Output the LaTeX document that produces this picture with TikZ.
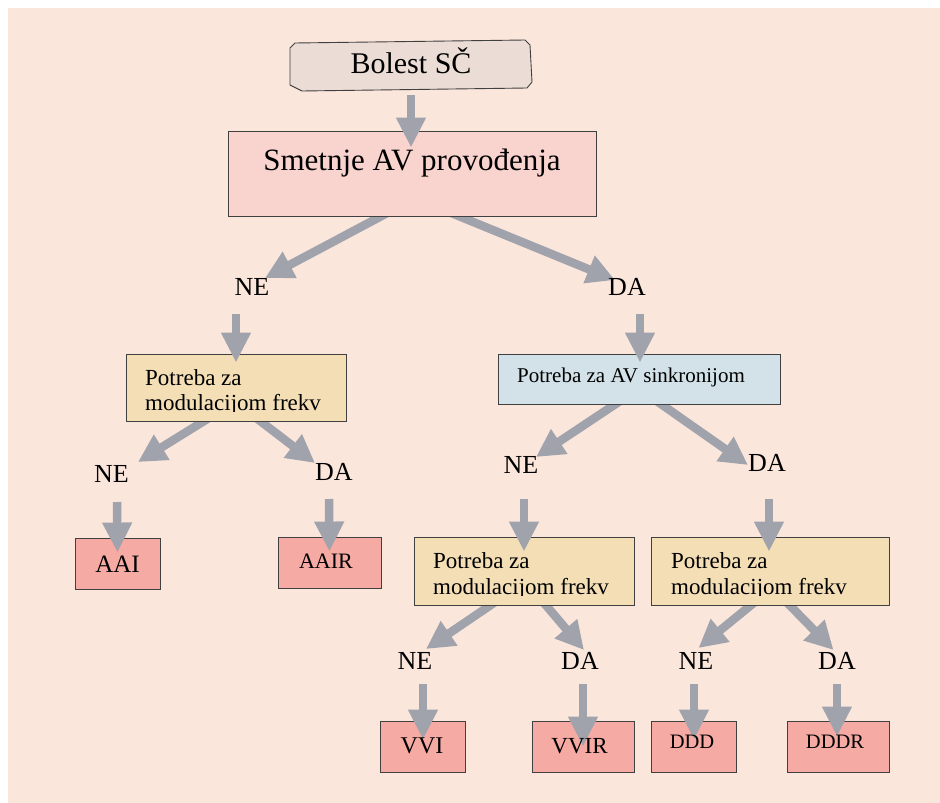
\documentclass[tikz,border=0pt]{standalone}
\usepackage{fontspec}
\setmainfont{Liberation Serif}
\usetikzlibrary{arrows.meta,calc}
\pgfdeclarelayer{back}
\pgfdeclarelayer{mid}
\pgfsetlayers{back,mid,main}
\definecolor{bgc}{HTML}{FBE6DC}
\definecolor{bolc}{HTML}{EBDDD5}
\definecolor{smetc}{HTML}{F9D4CF}
\definecolor{yelc}{HTML}{F3DEB6}
\definecolor{bluec}{HTML}{D3E2E8}
\definecolor{redc}{HTML}{F5AAA3}
\definecolor{arrc}{HTML}{A0A3AC}
\definecolor{bordc}{HTML}{404040}
\begin{document}
\begin{tikzpicture}[x=1pt,y=-1pt,
  box/.style={draw=bordc,line width=0.9pt,inner sep=0pt},
  arr/.style={draw=arrc,line width=8.5pt,-{Triangle[width=28pt,length=30pt]}},
  darr/.style={draw=arrc,line width=8.5pt,-{Triangle[width=28pt,length=28pt]}},
  lbl/.style={inner sep=0pt,anchor=base,font=\fontsize{26}{30}\selectfont},
  txt/.style={inner sep=0pt,anchor=base},
  txtl/.style={inner sep=0pt,anchor=base west,font=\fontsize{23}{26}\selectfont}]
\useasboundingbox (0,0) rectangle (940,803);
\begin{pgfonlayer}{back}
\fill[bgc] (8,8) rectangle (940,803);
\end{pgfonlayer}

% boxes
\node[inner sep=0pt,minimum width=242pt,minimum height=48pt] (bol) at (411,66) {};
\draw[draw=bordc,line width=0.9pt,fill=bolc,line join=round]
  (290,48) -- (295,43) -- (525,40) -- (530,45) -- (532,82) -- (527,88)
  -- (302,91) -- (290,85) -- cycle;
\node[box,fill=smetc,minimum width=368pt,minimum height=85pt] (smet) at (412,173.5) {};
\node[box,fill=yelc,minimum width=220pt,minimum height=67pt] (yel1) at (236,387.5) {};
\node[box,fill=bluec,minimum width=282pt,minimum height=50pt] (blue) at (639,379) {};
\node[box,fill=yelc,minimum width=220pt,minimum height=68pt] (yel2) at (524,571) {};
\node[box,fill=yelc,minimum width=238pt,minimum height=68pt] (yel3) at (770,571) {};
\node[box,fill=redc,minimum width=85pt,minimum height=51pt] (aai) at (117.5,563.5) {};
\node[box,fill=redc,minimum width=103pt,minimum height=51pt] (aair) at (329.5,562.5) {};
\node[box,fill=redc,minimum width=85pt,minimum height=51pt] (vvi) at (422.5,746.5) {};
\node[box,fill=redc,minimum width=102pt,minimum height=51pt] (vvir) at (583,746.5) {};
\node[box,fill=redc,minimum width=85pt,minimum height=51pt] (ddd) at (694,746.5) {};
\node[box,fill=redc,minimum width=102pt,minimum height=51pt] (dddr) at (838,746.5) {};

% decision labels
\node[lbl] (ne1) at (252,295) {NE};
\node[lbl] (da1) at (627,295) {DA};
\node[lbl] (ne2) at (111.5,482) {NE};
\node[lbl] (da2) at (334,480) {DA};
\node[lbl] (ne3) at (521,473) {NE};
\node[lbl] (da3) at (767,471) {DA};
\node[lbl] (ne4) at (415,669) {NE};
\node[lbl] (da4) at (580,669) {DA};
\node[lbl] (ne5) at (696,669) {NE};
\node[lbl] (da5) at (837,669) {DA};

% diagonal arrows (behind the boxes)
\begin{pgfonlayer}{mid}
\draw[darr] ($(smet.south)+(-20,-6)$) -- ($(ne1.base)+(13,-17)$);
\draw[darr] ($(smet.south)+(33,-6)$) -- ($(da1.base)+(-12,-15)$);
\draw[darr] ($(yel1.south)+(-23,-6)$) -- ($(ne2.base)+(26.5,-20)$);
\draw[darr] ($(yel1.south)+(17,-6)$) -- ($(da2.base)+(-19,-17)$);
\draw[darr] ($(blue.south)+(-15,-6)$) -- ($(ne3.base)+(15,-16)$);
\draw[darr] ($(blue.south)+(14,-6)$) -- ($(da3.base)+(-19,-6)$);
\draw[darr] ($(yel2.south)+(-25,-6)$) -- ($(ne4.base)+(11,-20)$);
\draw[darr] ($(yel2.south)+(17,-6)$) -- ($(da4.base)+(4,-19)$);
\draw[darr] ($(yel3.south)+(-12,-6)$) -- ($(ne5.base)+(2.5,-21)$);
\draw[darr] ($(yel3.south)+(14,-6)$) -- ($(da5.base)+(-3.5,-19)$);
\end{pgfonlayer}

% vertical arrows
\draw[arr] ($(bol.south)+(0,5)$) -- ($(smet.north)+(-1,17)$);
\draw[arr] ($(ne1.base)+(-16,19)$) -- ($(yel1.north)+(0,9)$);
\draw[arr] ($(da1.base)+(13,19)$) -- ($(blue.north)+(1,9)$);
\draw[arr] ($(ne2.base)+(5.5,20)$) -- ($(aai.north)+(0,15)$);
\draw[arr] ($(da2.base)+(-5,19)$) -- ($(aair.north)+(0,15)$);
\draw[arr] ($(ne3.base)+(3,26)$) -- ($(yel2.north)+(0,15)$);
\draw[arr] ($(da3.base)+(2,28)$) -- ($(yel3.north)+(-1,15)$);
\draw[arr] ($(ne4.base)+(8,15)$) -- ($(vvi.north)+(0.5,19)$);
\draw[arr] ($(da4.base)+(3,15)$) -- ($(vvir.north)+(0,26)$);
\draw[arr] ($(ne5.base)+(-2,15)$) -- ($(ddd.north)+(0,19)$);
\draw[arr] ($(da5.base)+(0,15)$) -- ($(dddr.north)+(-1,16)$);

% box texts
\node[txt,font=\fontsize{30}{36}\selectfont] (bolT) at (411,73) {Bolest SČ};
\node[txt,font=\fontsize{31}{37}\selectfont] (smetT) at (412,170) {Smetnje AV provođenja};
\node[txtl,font=\fontsize{21}{25}\selectfont] (blueT) at (517,382) {Potreba za AV sinkronijom};
\begin{scope}
\clip (yel1.north west) rectangle ($(yel1.south east)+(0,-10)$);
\node[txtl] (yel1a) at (145,385) {Potreba za};
\node[txtl] (yel1b) at (145,410) {modulacijom frekv};
\end{scope}
\begin{scope}
\clip (yel2.north west) rectangle ($(yel2.south east)+(0,-10)$);
\node[txtl] (yel2a) at (433,568) {Potreba za};
\node[txtl] (yel2b) at (433,594) {modulacijom frekv};
\end{scope}
\begin{scope}
\clip (yel3.north west) rectangle ($(yel3.south east)+(0,-10)$);
\node[txtl] (yel3a) at (671,568) {Potreba za};
\node[txtl] (yel3b) at (671,594) {modulacijom frekv};
\end{scope}
\node[txt,font=\fontsize{25}{30}\selectfont] (aaiT) at (117.5,572) {AAI};
\node[txt,font=\fontsize{22}{26}\selectfont] (aairT) at (326,568) {AAIR};
\node[txt,font=\fontsize{24}{28}\selectfont] (vviT) at (422,753) {VVI};
\node[txt,font=\fontsize{23}{27}\selectfont] (vvirT) at (579.5,753) {VVIR};
\node[txt,font=\fontsize{20.5}{24}\selectfont] (dddT) at (692,748) {DDD};
\node[txt,font=\fontsize{20.5}{24}\selectfont] (dddrT) at (835,748) {DDDR};
\end{tikzpicture}
\end{document}
